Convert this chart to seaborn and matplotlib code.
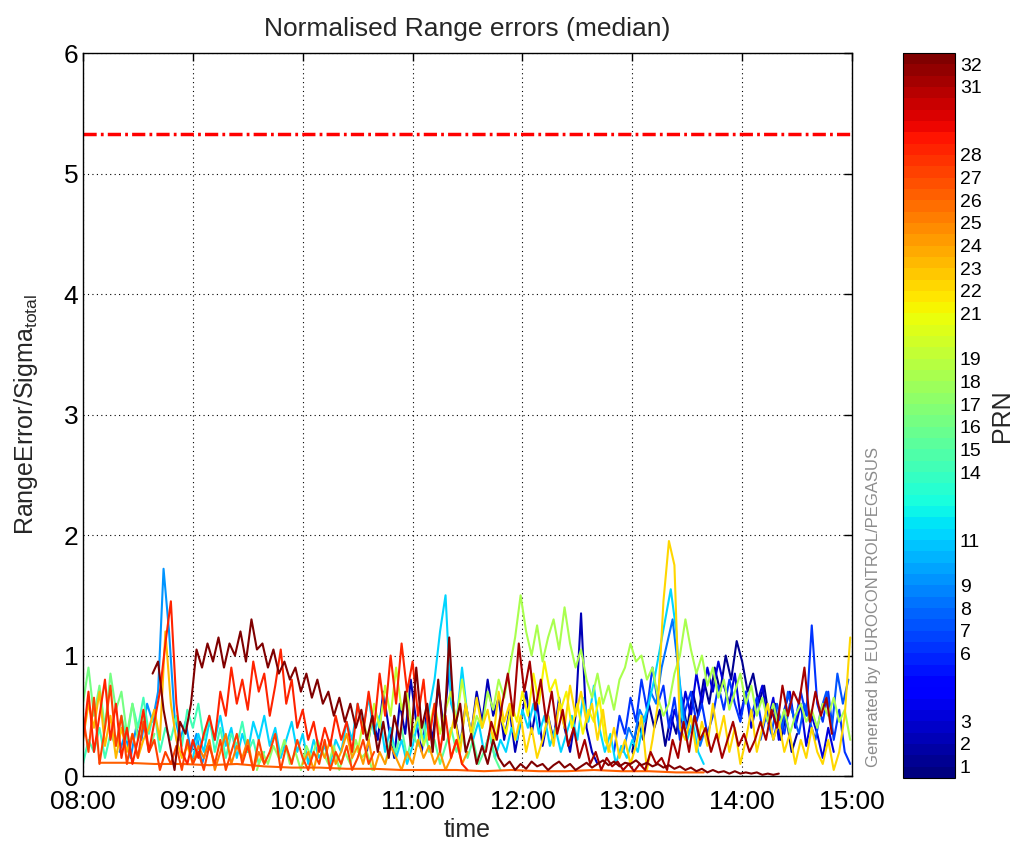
import numpy as np
import pandas as pd
import matplotlib
matplotlib.use('Agg')
import matplotlib.pyplot as plt
import seaborn as sns
from matplotlib.colors import Normalize
from matplotlib.cm import ScalarMappable

# minutes after 08:00, one value every 3 minutes unless stated
prn01_start = 300
prn01 = [0.2, 0.45, 0.3, 0.6, 0.4, 0.55, 0.25, 0.5, 0.35, 0.65,
         0.4, 0.7, 0.5, 0.8, 0.6, 0.9, 0.7, 1.0, 0.8, 1.12,
         0.95, 0.7, 0.85, 0.6, 0.75, 0.45, 0.6, 0.3, 0.5, 0.2,
         0.35]
prn02_start = 155
prn02 = [0.2, 0.5, 0.3, 0.7, 0.4, 0.15, 0.6, 0.35, 0.8, 0.45,
         0.2, 0.55, 0.3, 0.75, 0.4, 0.9, 0.5, 0.25, 0.6, 0.35,
         0.7, 0.45, 0.8, 0.5, 0.65, 0.3, 0.55, 0.2, 0.45, 0.7,
         0.35, 0.6, 0.25, 0.5, 0.3, 0.65, 0.4, 0.2, 0.5, 1.35,
         0.4, 0.2, 0.1]
prn03_start = 320
prn03 = [0.3, 0.55, 0.4, 0.7, 0.5, 0.85, 0.6, 0.9, 0.7, 0.95,
         0.75, 0.6, 0.85, 0.5, 0.7, 0.4, 0.6, 0.75, 0.45, 0.65,
         0.3, 0.55, 0.7, 0.4, 0.6, 0.25, 0.5, 0.35, 0.15, 0.4,
         0.2]
prn06_start = 290
prn06 = [0.2, 0.5, 0.35, 0.65, 0.45, 0.8, 0.55, 0.9, 0.6, 0.75,
         0.4, 0.65, 0.3, 0.55, 0.7, 0.45, 0.6, 0.35, 0.5, 0.75,
         0.55, 0.8, 0.6, 0.45, 0.7, 0.5, 0.65, 0.4, 0.55, 0.3,
         0.5, 0.35, 0.6, 0.45, 0.7, 0.5, 1.25, 0.6, 0.45, 0.7,
         0.3, 0.55, 0.2, 0.1]
prn07_start = 370
prn07 = [0.3, 0.5, 0.35, 0.6, 0.4, 0.7, 0.5, 0.35, 0.6, 0.45,
         0.3, 0.55, 0.7, 0.4, 0.85, 0.6, 0.8]
prn08_start = 295
prn08 = [0.2, 0.4, 0.3, 0.55, 0.45, 0.7, 0.6, 0.9, 1.1, 1.3,
         0.9, 0.5, 0.35, 0.5, 0.25, 0.4]
prn09_start = 20
prn09 = [0.2, 0.35, 0.15, 0.4, 0.3, 0.6, 0.45, 0.7, 1.72, 1.2,
         0.5, 0.3, 0.45, 0.2, 0.35, 0.1, 0.25]
prn11_start = 60
prn11 = [0.15, 0.35, 0.2, 0.45, 0.3, 0.5, 0.25, 0.4, 0.15, 0.35,
         0.2, 0.45, 0.3, 0.5, 0.25, 0.4, 0.15, 0.3, 0.45, 0.2,
         0.35, 0.1, 0.3, 0.15, 0.25, 0.1, 0.3, 0.2, 0.45, 0.3,
         0.6, 0.4, 0.65, 0.35, 0.5, 0.2, 0.4, 0.15, 0.3, 0.1,
         0.25, 0.45, 0.3, 0.55, 0.8, 1.2, 1.5, 0.6, 0.45, 0.9,
         0.5, 0.3, 0.45, 0.2, 0.35, 0.15, 0.3, 0.2, 0.4, 0.3,
         0.55, 0.4, 0.6, 0.35, 0.5, 0.25, 0.4, 0.2, 0.35, 0.5,
         0.3, 0.65, 0.45, 0.75, 0.4, 0.2, 0.35, 0.1, 0.25, 0.15,
         0.3, 0.2, 0.45, 0.6, 0.8, 1.05, 1.3, 1.55, 1.2, 0.5,
         0.3, 0.45, 0.2, 0.1]
prn14_start = 0
prn14 = [0.1, 0.3, 0.2, 0.4, 0.15, 0.35, 0.25, 0.5, 0.3, 0.6,
         0.4, 0.65, 0.35, 0.55, 0.2, 0.4, 0.3, 0.5, 0.25, 0.55,
         0.4, 0.6, 0.3, 0.5, 0.2, 0.4, 0.15, 0.35, 0.25, 0.45,
         0.2, 0.3, 0.1, 0.2]
prn15_start = 165
prn15 = [0.1, 0.3, 0.2, 0.4, 0.15, 0.35, 0.25, 0.45, 0.2, 0.3,
         0.1, 0.25, 0.4, 0.2, 0.35, 0.15, 0.3, 0.1, 0.2, 0.35,
         0.15, 0.05]
prn16_start = 0
prn16 = [0.6, 0.9, 0.5, 0.75, 0.4, 0.85, 0.55, 0.7, 0.35, 0.6,
         0.3, 0.5, 0.2, 0.35]
prn17_start = 95
prn17 = [0.05, 0.2, 0.1, 0.25, 0.15, 0.3, 0.1, 0.2, 0.05, 0.25,
         0.15, 0.3, 0.2, 0.1, 0.25, 0.05, 0.2, 0.1, 0.3, 0.15,
         0.2, 0.05]
prn18_start = 212
prn18 = [0.3, 0.5, 0.4, 0.7, 0.55, 0.8, 0.65, 0.9, 1.15, 1.5,
         1.2, 1.0, 1.25, 0.95, 1.15, 1.3, 1.05, 1.4, 1.1, 0.9,
         1.05, 0.8, 0.65, 0.85, 0.6, 0.75, 0.55, 0.8, 0.9, 1.1,
         0.95, 1.0, 0.8, 0.9, 0.65, 0.5, 0.6, 0.85, 1.0, 1.3,
         1.05, 0.85, 1.0, 0.75, 0.9, 0.65, 0.8, 0.55, 0.7, 0.85,
         0.6, 0.75, 0.5, 0.65, 0.45, 0.6, 0.4, 0.55, 0.35, 0.5,
         0.6, 0.45, 0.55, 0.4, 0.6, 0.5, 0.65, 0.45, 0.55, 0.3]
prn19_start = 150
prn19 = [0.2, 0.45, 0.3, 0.6, 0.4, 0.75, 0.5, 0.9, 0.55, 0.7,
         0.35, 0.5, 0.25, 0.4, 0.6, 0.35, 0.55, 0.7, 0.45, 0.8,
         0.5]
prn21_start = 225
prn21 = [0.3, 0.5, 0.35, 0.6, 0.45, 0.7, 0.5, 0.85, 0.6, 0.95,
         0.7, 0.8, 0.55, 0.7, 0.4, 0.6, 0.35, 0.55, 0.45, 0.65,
         0.3, 0.2]
prn22_start = 200
prn22 = [0.3, 0.5, 0.2, 0.6, 0.35, 0.65, 0.4, 0.55, 0.3, 0.7,
         0.45, 0.6, 0.3, 0.5, 0.2, 0.4, 0.15, 0.3, 0.5, 0.25,
         0.6, 0.4, 0.75, 0.5, 0.7, 0.45, 0.6, 0.3, 0.55, 0.2,
         0.4, 0.15, 0.3, 0.1, 0.25, 0.5, 0.05, 0.3, 0.6, 1.45,
         1.95, 1.75, 0.4, 0.3, 0.5, 0.2, 0.45, 0.25, 0.6, 0.3,
         0.5, 0.2, 0.4, 0.1, 0.3, 0.55, 0.2, 0.4, 0.6, 0.3,
         0.45, 0.2, 0.35, 0.1, 0.3, 0.15, 0.4, 0.2, 0.1, 0.3,
         0.05, 0.2, 0.5, 1.15]
prn23_start = 0
prn23 = [0.3, 0.6, 0.4, 0.7, 0.25, 0.5, 0.15, 0.4, 0.2, 0.35,
         0.15, 0.3, 0.4, 0.55, 0.3, 1.2, 0.6, 0.3, 0.15, 0.25,
         0.1]
prn24_start = 120
prn24 = [0.1, 0.2, 0.05, 0.25, 0.15, 0.3, 0.1, 0.2, 0.35, 0.15,
         0.25, 0.1, 0.3, 0.05, 0.2, 0.1, 0.25, 0.15, 0.05, 0.2,
         0.1, 0.3, 0.15, 0.25, 0.1, 0.2, 0.05, 0.15, 0.3, 0.1,
         0.2]
prn25_start = 60
prn25 = [0.1, 0.25, 0.15, 0.3, 0.05, 0.2, 0.35, 0.1, 0.25, 0.15,
         0.3, 0.05, 0.2, 0.1]
# PRN 26 is the slow flat trace near the floor, one value every 15 minutes
prn26_start = 9
prn26 = [0.11, 0.11, 0.1, 0.1, 0.09, 0.1, 0.08, 0.07, 0.07, 0.06,
         0.06, 0.05, 0.05, 0.05, 0.04, 0.05, 0.04, 0.04, 0.05, 0.04,
         0.04, 0.03, 0.03]
prn27_start = 0
prn27 = [0.5, 0.2, 0.65, 0.1, 0.4, 0.75, 0.25, 0.5, 0.1, 0.35,
         0.15, 0.45, 0.2, 0.3, 0.05, 0.2, 0.1, 0.25, 0.05, 0.3,
         0.1, 0.2, 0.05, 0.25, 0.1, 0.3, 0.05, 0.2, 0.35, 0.1,
         0.25, 0.05, 0.3, 0.1, 0.2, 0.35, 0.05, 0.25, 0.1, 0.3,
         0.15, 0.05, 0.2, 0.1, 0.3, 0.05, 0.2, 0.1, 0.25, 0.05,
         0.15, 0.3, 0.1, 0.2]
prn28_start = 0
prn28 = [0.3, 0.7, 0.2, 0.5, 0.8, 0.3, 0.6, 0.15, 0.4, 0.1,
         0.3, 0.55, 0.2, 0.45, 0.7, 1.1, 1.45, 0.6, 0.2, 0.1,
         0.3, 0.15, 0.35, 0.5, 0.3, 0.7, 0.5, 0.9, 0.6, 0.8,
         0.55, 0.95, 0.7, 0.85, 0.5, 0.75, 1.05, 0.6, 0.8, 0.4,
         0.55, 0.3, 0.45, 0.2, 0.4, 0.25, 0.5, 0.3, 0.45, 0.2,
         0.6, 0.35, 0.7, 0.4, 0.85, 0.5, 1.0, 0.6, 1.1, 0.7,
         0.95, 0.5, 0.8, 0.3, 0.6, 0.2, 0.5, 0.15, 0.3, 0.1,
         0.05]
prn31_start = 220
prn31 = [0.2, 0.45, 0.3, 0.6, 0.85, 0.5, 1.1, 0.7, 0.95, 0.55,
         0.8, 0.45, 0.7, 0.35, 0.55, 0.25, 0.4, 0.15, 0.3, 0.1,
         0.2, 0.05, 0.15, 0.08, 0.12, 0.05, 0.1, 0.04, 0.1, 0.05,
         0.2, 0.1, 0.15, 0.05, 0.3, 0.15, 0.45, 0.2, 0.5, 0.3,
         0.4, 0.2, 0.35, 0.15, 0.3, 0.45, 0.25, 0.35, 0.2, 0.3,
         0.45, 0.3, 0.55, 0.4, 0.75, 0.5, 0.7, 0.6, 0.9, 0.45,
         0.7, 0.5, 0.65, 0.35]
prn32_start = 38
prn32 = [0.85, 0.95, 0.55, 0.3, 0.05, 0.45, 0.35, 0.6, 1.05, 0.9,
         1.1, 0.95, 1.15, 0.9, 1.1, 1.0, 1.2, 0.95, 1.3, 1.05,
         1.1, 0.9, 1.05, 0.85, 0.95, 0.8, 0.9, 0.7, 0.85, 0.65,
         0.8, 0.6, 0.7, 0.5, 0.65, 0.45, 0.6, 0.4, 0.55, 0.3,
         0.5, 0.2, 0.45, 0.15, 0.5, 0.3, 0.7, 0.25, 0.9, 0.4,
         0.6, 0.2, 0.8, 0.3, 1.15, 0.4, 0.6, 0.2, 0.35, 0.1,
         0.25,
         0.1, 0.3, 0.15, 0.08, 0.12, 0.05, 0.1, 0.06, 0.12, 0.08,
         0.1, 0.05, 0.09, 0.12, 0.07, 0.1, 0.05, 0.08, 0.11, 0.07,
         0.1, 0.13, 0.09, 0.12, 0.08, 0.11, 0.1, 0.13, 0.09, 0.11,
         0.08, 0.1, 0.07, 0.09, 0.06, 0.08, 0.05, 0.07, 0.04, 0.06,
         0.03, 0.05, 0.03, 0.04, 0.02, 0.04, 0.02, 0.03, 0.02, 0.03,
         0.01, 0.02, 0.01, 0.02]

series = [(1, prn01_start, 3, prn01), (2, prn02_start, 3, prn02),
          (3, prn03_start, 3, prn03), (6, prn06_start, 3, prn06),
          (7, prn07_start, 3, prn07), (8, prn08_start, 3, prn08),
          (9, prn09_start, 3, prn09), (11, prn11_start, 3, prn11),
          (14, prn14_start, 3, prn14), (15, prn15_start, 3, prn15),
          (16, prn16_start, 3, prn16), (17, prn17_start, 3, prn17),
          (18, prn18_start, 3, prn18), (19, prn19_start, 3, prn19),
          (21, prn21_start, 3, prn21), (22, prn22_start, 3, prn22),
          (23, prn23_start, 3, prn23), (24, prn24_start, 3, prn24),
          (25, prn25_start, 3, prn25), (26, prn26_start, 15, prn26),
          (27, prn27_start, 3, prn27), (28, prn28_start, 3, prn28),
          (31, prn31_start, 3, prn31), (32, prn32_start, 3, prn32)]

prn_ticks = [1, 2, 3, 6, 7, 8, 9, 11, 14, 15, 16, 17, 18, 19, 21, 22, 23,
             24, 25, 26, 27, 28, 31, 32]
hour_ticks = [8, 9, 10, 11, 12, 13, 14, 15]
hour_labels = ['08:00', '09:00', '10:00', '11:00', '12:00', '13:00', '14:00', '15:00']
threshold = 5.33

rows = []
for prn, start, step, vals in series:
    t = start + step * np.arange(len(vals))
    for ti, v in zip(t, vals):
        rows.append((prn, 8 + ti / 60.0, v))
df = pd.DataFrame(rows, columns=['prn', 'hour', 'value'])

sns.set_style('white')
plt.rcParams['font.family'] = ['Liberation Sans', 'DejaVu Sans']
plt.rcParams['mathtext.fontset'] = 'custom'
plt.rcParams['mathtext.rm'] = 'Liberation Sans'

cmap = matplotlib.colormaps['jet'].resampled(64)
norm = Normalize(vmin=0.5, vmax=32.5)
palette = {p: cmap(norm(p)) for p in df['prn'].unique()}

fig = plt.figure(figsize=(10.22, 8.47), dpi=100)
ax = fig.add_axes([0.0812, 0.0838, 0.7525, 0.8536])

sns.lineplot(data=df, x='hour', y='value', hue='prn', palette=palette,
             estimator=None, sort=False, linewidth=1.5, legend=False, ax=ax)
ax.axhline(threshold, color='red', linewidth=2.5, linestyle=(0, (3.8, 1.2, 0.8, 1.2)))

ax.set_xlim(8, 15)
ax.set_ylim(0, 6)
ax.set_xticks(hour_ticks)
ax.set_xticklabels(hour_labels)
ax.set_yticks(range(7))
ax.grid(True, color='black', linestyle=(0, (1, 3)), linewidth=0.8)
ax.set_axisbelow(True)
ax.tick_params(direction='in', top=True, right=True, length=6, width=1,
               labelsize=19, colors='black')
ax.tick_params(axis='x', pad=10)
for s in ax.spines.values():
    s.set_color('black')
    s.set_linewidth(1)

ax.set_title('Normalised Range errors (median)', fontsize=19, pad=12)
ax.set_xlabel('time', fontsize=18)
ax.set_ylabel(r'RangeError/Sigma$_{\mathrm{total}}$', fontsize=18)
ax.yaxis.set_label_coords(-0.056, 0.5)
ax.xaxis.set_label_coords(0.5, -0.058)

fig.text(0.855, 0.283, 'Generated by EUROCONTROL/PEGASUS', rotation=90,
         color='#8c8c8c', fontsize=12, ha='center', va='center')

cax = fig.add_axes([0.8836, 0.0815, 0.0509, 0.856])
sm = ScalarMappable(norm=norm, cmap=cmap)
cb = fig.colorbar(sm, cax=cax, ticks=prn_ticks)
cb.ax.tick_params(direction='in', left=True, right=True, length=6, width=1,
                  labelsize=14, colors='black')
cb.outline.set_edgecolor('black')
cb.set_label('PRN', fontsize=18, labelpad=6)

fig.savefig('out.png', dpi=100)
